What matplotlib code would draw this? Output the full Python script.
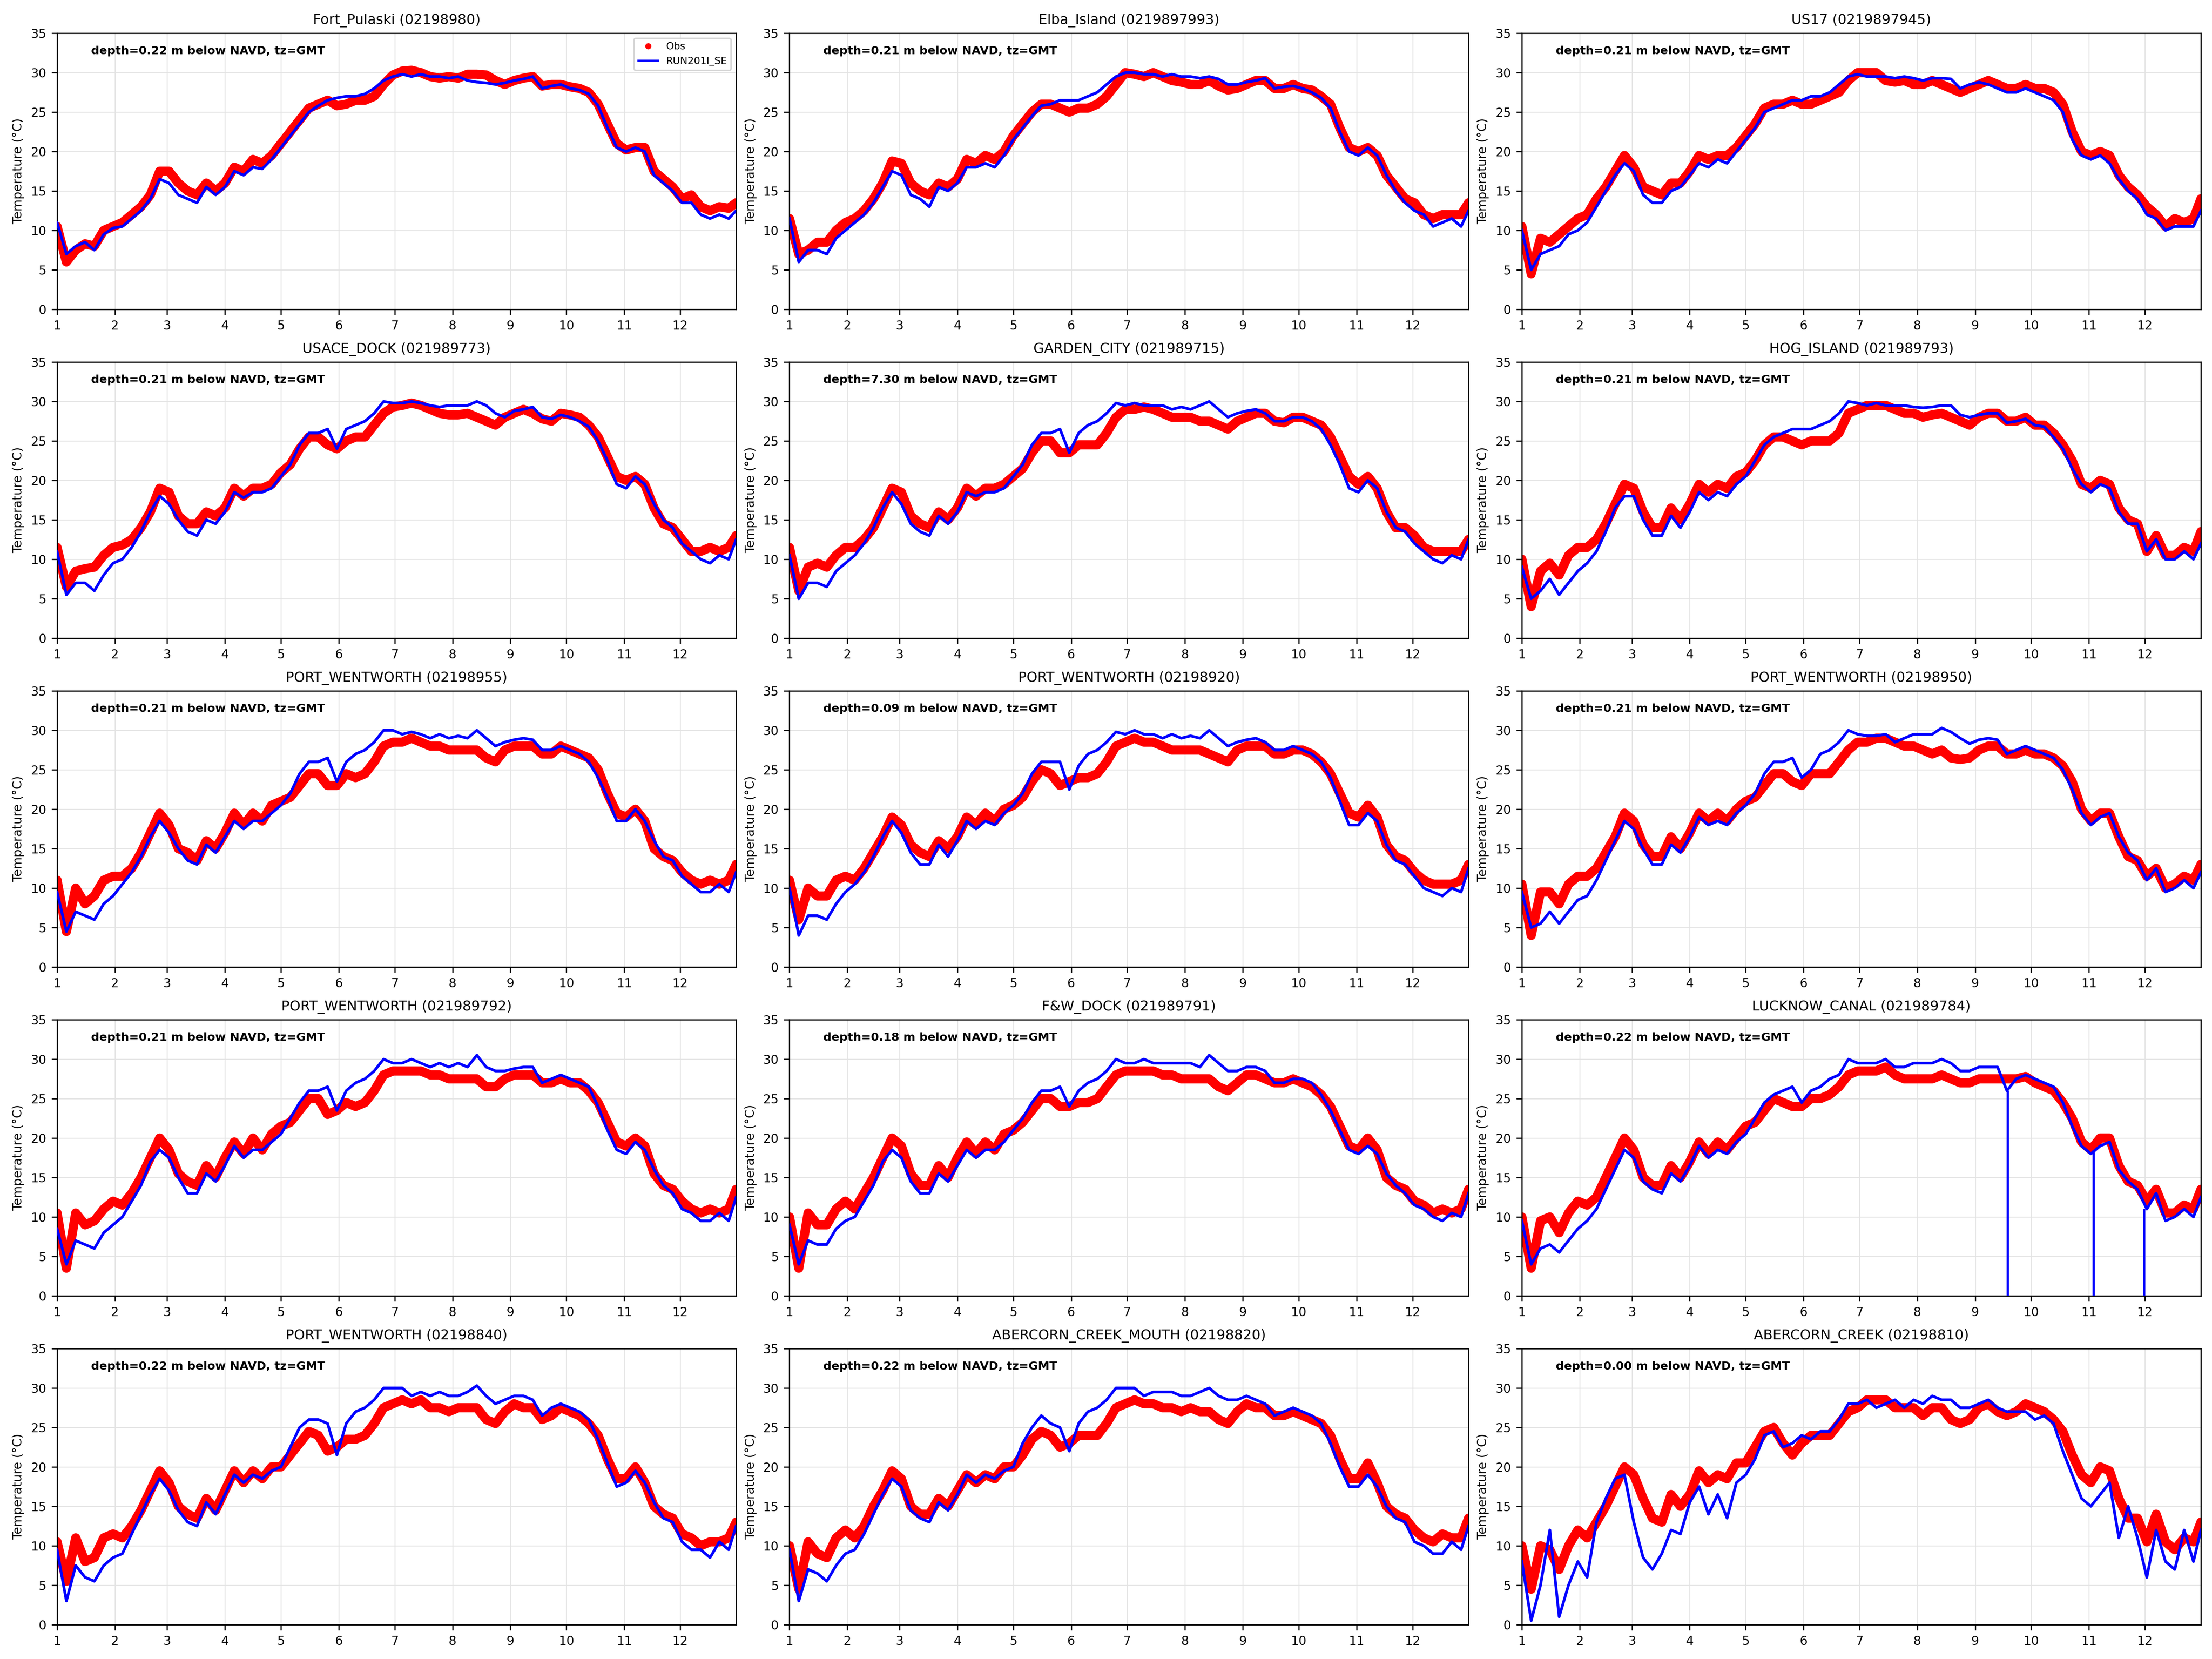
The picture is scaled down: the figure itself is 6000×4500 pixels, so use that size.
import matplotlib
matplotlib.use('Agg')
import matplotlib.pyplot as plt
from matplotlib.lines import Line2D

# time axis: day of year, sampled every 5 days
days = list(range(1, 362, 5)) + [365]
month_start = [1, 32, 60, 91, 121, 152, 182, 213, 244, 274, 305, 335]
month_labels = [str(m) for m in range(1, 13)]

fort_pulaski_obs = [10.5, 6.0, 7.5, 8.3, 8.0, 10.0, 10.5,
                    11.0, 12.0, 13.0, 14.5, 17.5,
                    17.5, 16.0, 15.0, 14.5, 16.0, 15.0,
                    16.0, 18.0, 17.5, 19.0, 18.5, 19.5,
                    21.0, 22.5, 24.0, 25.5, 26.0, 26.5, 25.8,
                    26.0, 26.5, 26.5, 27.0, 28.5, 29.7,
                    30.2, 30.3, 30.0, 29.5, 29.3, 29.5,
                    29.3, 29.8, 29.8, 29.7, 29.0, 28.5,
                    29.0, 29.3, 29.5, 28.3, 28.5, 28.5,
                    28.2, 28.0, 27.5, 26.0, 23.5, 21.0,
                    20.2, 20.5, 20.5, 17.5, 16.5, 15.5,
                    14.0, 14.5, 13.0, 12.5, 13.0, 12.8, 13.5]
fort_pulaski_mod = [11.0, 7.0, 8.0, 8.5, 7.5, 9.5, 10.3,
                    10.5, 11.5, 12.5, 14.0, 16.5,
                    16.0, 14.5, 14.0, 13.5, 15.5, 14.5,
                    15.5, 17.5, 17.0, 18.0, 17.8, 19.0,
                    20.5, 22.0, 23.5, 25.0, 25.8, 26.5, 26.8,
                    27.0, 27.0, 27.3, 28.0, 29.0, 29.5,
                    29.8, 29.5, 29.8, 29.5, 29.5, 29.3,
                    29.5, 29.0, 28.8, 28.7, 28.5, 28.7,
                    29.0, 29.2, 29.5, 28.0, 28.3, 28.5,
                    28.0, 27.8, 27.3, 25.8, 23.0, 20.5,
                    20.0, 20.5, 20.0, 17.0, 16.0, 15.0,
                    13.5, 13.5, 12.0, 11.5, 12.0, 11.5, 12.5]

elba_obs = [11.5, 7.0, 7.5, 8.5, 8.5, 10.0, 11.0,
            11.5, 12.5, 14.0, 16.0, 18.8,
            18.5, 16.0, 15.0, 14.5, 16.0, 15.5,
            16.5, 19.0, 18.5, 19.5, 19.0, 20.0,
            22.0, 23.5, 25.0, 26.0, 26.0, 25.5, 25.0,
            25.5, 25.5, 26.0, 27.0, 28.5, 30.0,
            29.8, 29.5, 30.0, 29.5, 29.0, 28.8,
            28.5, 28.5, 29.0, 28.3, 27.8, 28.0,
            28.5, 29.0, 29.0, 28.0, 28.0, 28.5,
            28.0, 27.8, 27.0, 26.0, 23.0, 20.5,
            20.0, 20.5, 19.5, 17.0, 15.5, 14.0,
            13.5, 12.0, 11.5, 12.0, 12.0, 12.0, 13.5]
elba_mod = [11.5, 6.0, 7.5, 7.5, 7.0, 9.0, 10.0,
            11.0, 12.0, 13.5, 15.5, 17.5,
            17.0, 14.5, 14.0, 13.0, 15.5, 15.0,
            16.0, 18.0, 18.0, 18.5, 18.0, 19.5,
            21.5, 23.0, 24.5, 25.8, 26.0, 26.5, 26.5,
            26.5, 27.0, 27.5, 28.5, 29.5, 30.0,
            30.0, 29.8, 29.8, 29.5, 29.8, 29.5,
            29.5, 29.3, 29.5, 29.2, 28.5, 28.5,
            28.8, 29.0, 29.3, 28.0, 28.2, 28.3,
            28.0, 27.5, 26.8, 25.5, 22.5, 20.0,
            19.5, 20.5, 19.5, 17.0, 15.0, 13.5,
            12.5, 12.0, 10.5, 11.0, 11.5, 10.5, 12.5]

us17_obs = [10.5, 4.5, 9.0, 8.5, 9.5, 10.5, 11.5,
            12.0, 14.0, 15.5, 17.5, 19.5,
            18.0, 15.5, 15.0, 14.5, 16.0, 16.0,
            17.5, 19.5, 19.0, 19.5, 19.5, 20.5,
            22.0, 23.5, 25.5, 26.0, 26.0, 26.5, 26.0,
            26.0, 26.5, 27.0, 27.5, 29.0, 30.0,
            30.0, 30.0, 29.0, 28.8, 29.0, 28.5,
            28.5, 29.0, 28.5, 28.0, 27.5, 28.0,
            28.5, 29.0, 28.5, 28.0, 28.0, 28.5,
            28.0, 28.0, 27.5, 26.0, 22.5, 20.0,
            19.5, 20.0, 19.5, 17.0, 15.5, 14.5,
            13.0, 12.0, 10.5, 11.5, 11.0, 11.5, 14.0]
us17_mod = [10.0, 5.0, 7.0, 7.5, 8.0, 9.5, 10.0,
            11.0, 13.0, 15.0, 17.0, 18.5,
            17.5, 14.5, 13.5, 13.5, 15.0, 15.5,
            17.0, 18.5, 18.0, 19.0, 18.5, 20.0,
            21.5, 23.0, 25.0, 25.5, 26.0, 26.5, 26.5,
            27.0, 27.0, 27.5, 28.5, 29.5, 29.8,
            29.5, 29.5, 29.5, 29.3, 29.5, 29.3,
            29.0, 29.3, 29.3, 29.2, 28.0, 28.5,
            28.8, 28.5, 28.0, 27.5, 27.5, 28.0,
            27.5, 27.0, 26.5, 25.0, 21.5, 19.5,
            19.0, 19.5, 18.5, 16.5, 15.0, 14.0,
            12.0, 11.5, 10.0, 10.5, 10.5, 10.5, 12.5]

usace_obs = [11.5, 6.5, 8.5, 8.8, 9.0, 10.5, 11.5,
             11.8, 12.5, 14.0, 16.0, 19.0,
             18.5, 15.5, 14.5, 14.5, 16.0, 15.5,
             16.5, 19.0, 18.0, 19.0, 19.0, 19.5,
             21.0, 22.0, 24.0, 25.5, 25.5, 24.5, 24.0,
             25.0, 25.5, 25.5, 27.0, 28.5, 29.3,
             29.5, 29.8, 29.5, 29.0, 28.5, 28.3,
             28.3, 28.5, 28.0, 27.5, 27.0, 28.0,
             28.5, 29.0, 28.5, 27.8, 27.5, 28.5,
             28.3, 28.0, 27.0, 25.5, 23.0, 20.5,
             20.0, 20.5, 19.5, 16.5, 14.5, 14.0,
             12.5, 11.0, 11.0, 11.5, 11.0, 11.5, 13.0]
usace_mod = [11.0, 5.5, 7.0, 7.0, 6.0, 8.0, 9.5,
             10.0, 11.5, 13.5, 16.0, 18.0,
             17.0, 15.0, 13.5, 13.0, 15.0, 14.5,
             16.0, 18.5, 17.8, 18.5, 18.5, 19.0,
             20.5, 22.0, 24.5, 26.0, 26.0, 26.5, 24.0,
             26.5, 27.0, 27.5, 28.5, 30.0, 29.8,
             29.8, 30.0, 29.8, 29.5, 29.3, 29.5,
             29.5, 29.5, 30.0, 29.5, 28.5, 28.0,
             28.8, 29.0, 29.3, 28.0, 27.8, 28.3,
             28.0, 27.5, 26.8, 25.0, 22.5, 19.5,
             19.0, 20.5, 19.5, 17.0, 15.0, 14.0,
             12.0, 11.0, 10.0, 9.5, 10.5, 10.0, 12.5]

garden_obs = [11.5, 6.0, 9.0, 9.5, 9.0, 10.5, 11.5,
              11.5, 12.5, 14.0, 16.5, 19.0,
              18.5, 15.5, 14.5, 14.0, 16.0, 15.0,
              16.5, 19.0, 18.0, 19.0, 19.0, 19.5,
              20.5, 21.5, 23.5, 25.0, 25.0, 23.5, 23.5,
              24.5, 24.5, 24.5, 26.0, 28.0, 29.0,
              29.0, 29.3, 29.0, 28.5, 28.0, 28.0,
              28.0, 27.5, 27.5, 27.0, 26.5, 27.5,
              28.0, 28.5, 28.5, 27.5, 27.3, 28.0,
              28.0, 27.5, 27.0, 25.5, 23.0, 20.5,
              19.5, 20.5, 19.0, 16.0, 14.0, 14.0,
              13.0, 11.5, 11.0, 11.0, 11.0, 11.0, 12.5]
garden_mod = [10.5, 5.0, 7.0, 7.0, 6.5, 8.5, 9.5,
              10.5, 12.0, 14.0, 16.5, 18.5,
              17.0, 14.5, 13.5, 13.0, 15.5, 14.5,
              16.0, 18.5, 18.0, 18.5, 18.5, 19.0,
              20.5, 22.0, 24.5, 26.0, 26.0, 26.5, 23.5,
              26.0, 27.0, 27.5, 28.5, 29.8, 29.5,
              29.8, 29.5, 29.5, 29.5, 29.0, 29.3,
              29.0, 29.5, 30.0, 29.0, 28.0, 28.5,
              28.8, 29.0, 28.5, 27.5, 27.5, 28.0,
              28.0, 27.5, 26.5, 24.5, 22.0, 19.0,
              18.5, 20.0, 19.0, 16.0, 14.0, 13.5,
              12.0, 11.0, 10.0, 9.5, 10.5, 10.0, 12.5]

hog_obs = [10.0, 4.0, 8.5, 9.5, 8.0, 10.5, 11.5,
           11.5, 12.5, 14.5, 17.0, 19.5,
           19.0, 16.0, 14.0, 14.0, 16.5, 15.0,
           17.0, 19.5, 18.5, 19.5, 19.0, 20.5,
           21.0, 22.5, 24.5, 25.5, 25.5, 25.0, 24.5,
           25.0, 25.0, 25.0, 26.0, 28.5, 29.0,
           29.5, 29.5, 29.5, 29.0, 28.5, 28.5,
           28.0, 28.3, 28.5, 28.0, 27.5, 27.0,
           28.0, 28.5, 28.5, 27.5, 27.5, 28.0,
           27.0, 27.0, 26.0, 24.5, 22.5, 19.5,
           19.0, 20.0, 19.5, 16.5, 15.0, 14.5,
           11.0, 13.0, 10.5, 10.5, 11.5, 11.0, 13.5]
hog_mod = [9.0, 5.0, 6.0, 7.5, 5.5, 7.0, 8.5,
           9.5, 11.0, 13.5, 16.5, 18.0,
           18.0, 15.0, 13.0, 13.0, 15.5, 14.0,
           16.0, 18.5, 17.5, 18.5, 18.0, 19.5,
           20.5, 22.5, 24.5, 25.5, 26.0, 26.5, 26.5,
           26.5, 27.0, 27.5, 28.5, 30.0, 29.8,
           29.5, 29.8, 29.5, 29.5, 29.5, 29.3,
           29.2, 29.3, 29.5, 29.5, 28.3, 28.0,
           28.3, 28.5, 28.5, 27.3, 27.5, 27.8,
           27.0, 26.8, 25.5, 24.0, 21.5, 19.5,
           18.5, 19.5, 19.0, 16.0, 14.5, 14.5,
           11.0, 12.5, 10.0, 10.0, 11.0, 10.0, 12.0]

pw955_obs = [11.0, 4.5, 10.0, 8.0, 9.0, 11.0, 11.5,
             11.5, 12.5, 14.5, 17.0, 19.5,
             18.0, 15.0, 14.5, 13.5, 16.0, 15.0,
             17.0, 19.5, 18.0, 19.5, 18.5, 20.5,
             21.0, 21.5, 23.0, 24.5, 24.5, 23.0, 23.0,
             24.5, 24.0, 24.5, 26.0, 28.0, 28.5,
             28.5, 29.0, 28.5, 28.0, 28.0, 27.5,
             27.5, 27.5, 27.5, 26.5, 26.0, 27.5,
             28.0, 28.0, 28.0, 27.0, 27.0, 28.0,
             27.5, 27.0, 26.5, 25.0, 22.0, 19.5,
             19.0, 20.0, 18.5, 15.0, 14.0, 13.5,
             12.0, 11.0, 10.5, 11.0, 10.5, 11.0, 13.0]
pw955_mod = [9.5, 4.5, 7.0, 6.5, 6.0, 8.0, 9.0,
             10.5, 12.0, 14.0, 16.5, 18.5,
             17.0, 15.0, 13.5, 13.0, 15.5, 14.5,
             16.5, 18.5, 17.5, 18.5, 18.5, 19.5,
             20.5, 22.0, 24.5, 26.0, 26.0, 26.5, 23.5,
             26.0, 27.0, 27.5, 28.5, 30.0, 30.0,
             29.5, 29.8, 29.5, 29.0, 29.5, 29.0,
             29.3, 29.0, 30.0, 29.0, 28.0, 28.5,
             28.8, 29.0, 28.8, 27.5, 27.5, 28.0,
             27.5, 27.0, 26.0, 24.0, 21.5, 18.5,
             18.5, 20.0, 18.5, 16.0, 14.0, 13.5,
             11.5, 10.5, 9.5, 9.5, 10.5, 9.5, 12.0]

pw920_obs = [11.0, 6.0, 10.0, 9.0, 9.0, 11.0, 11.5,
             11.0, 12.5, 14.5, 16.5, 19.0,
             18.0, 15.5, 14.5, 14.0, 16.0, 15.0,
             16.5, 19.0, 18.0, 19.5, 18.5, 20.0,
             20.5, 21.5, 23.5, 25.0, 24.5, 23.0, 23.5,
             24.0, 24.0, 24.5, 26.0, 28.0, 28.5,
             29.0, 28.5, 28.5, 28.0, 27.5, 27.5,
             27.5, 27.5, 27.0, 26.5, 26.0, 27.5,
             28.0, 28.0, 28.0, 27.0, 27.0, 27.5,
             27.5, 27.0, 26.0, 24.5, 22.0, 19.5,
             19.0, 20.5, 19.0, 15.5, 14.0, 13.5,
             12.0, 11.0, 10.5, 10.5, 10.5, 11.0, 13.0]
pw920_mod = [10.0, 4.0, 6.5, 6.5, 6.0, 8.0, 9.5,
             10.5, 12.0, 14.0, 16.5, 18.5,
             17.0, 14.5, 13.0, 13.0, 15.5, 14.0,
             16.0, 18.5, 17.5, 18.5, 18.0, 19.5,
             20.5, 22.0, 24.5, 26.0, 26.0, 26.0, 22.5,
             25.5, 27.0, 27.5, 28.5, 29.8, 29.5,
             30.0, 29.5, 29.5, 29.0, 29.5, 29.0,
             29.3, 29.0, 30.0, 29.0, 28.0, 28.5,
             28.8, 29.0, 28.5, 27.5, 27.5, 28.0,
             27.5, 27.0, 26.0, 24.0, 21.0, 18.0,
             18.0, 19.5, 18.5, 15.5, 13.5, 13.0,
             11.5, 10.0, 9.5, 9.0, 10.0, 9.5, 12.5]

pw950_obs = [10.5, 4.0, 9.5, 9.5, 8.0, 10.5, 11.5,
             11.5, 12.5, 14.5, 16.5, 19.5,
             18.5, 15.5, 14.0, 14.0, 16.5, 15.0,
             17.0, 19.5, 18.5, 19.5, 18.5, 20.0,
             21.0, 21.5, 23.0, 24.5, 24.5, 23.5, 23.0,
             24.5, 24.5, 24.5, 26.0, 27.5, 28.5,
             28.5, 29.0, 29.0, 28.5, 28.0, 28.0,
             27.5, 27.0, 27.5, 26.5, 26.3, 26.5,
             27.5, 28.0, 28.0, 27.0, 27.0, 27.5,
             27.0, 27.0, 26.5, 25.5, 23.5, 20.0,
             18.5, 19.5, 19.5, 16.5, 14.0, 13.5,
             11.5, 12.5, 10.0, 10.5, 11.5, 11.0, 13.0]
pw950_mod = [9.5, 5.0, 5.5, 7.0, 5.5, 7.0, 8.5,
             9.0, 11.0, 13.5, 16.0, 18.5,
             17.5, 15.0, 13.0, 13.0, 15.5, 14.5,
             16.5, 19.0, 18.0, 18.5, 18.0, 19.5,
             20.5, 22.0, 24.5, 26.0, 26.0, 26.5, 24.0,
             25.0, 27.0, 27.5, 28.5, 30.0, 29.5,
             29.3, 29.3, 29.5, 28.5, 29.0, 29.5,
             29.5, 29.5, 30.3, 29.8, 29.0, 28.3,
             28.8, 29.0, 28.8, 27.0, 27.5, 28.0,
             27.5, 27.0, 26.5, 25.0, 22.5, 19.5,
             18.0, 19.0, 19.5, 16.5, 14.5, 13.5,
             11.0, 12.5, 9.5, 10.0, 11.0, 10.0, 12.0]

pw792_obs = [10.5, 3.5, 10.5, 9.0, 9.5, 11.0, 12.0,
             11.5, 13.0, 15.0, 17.5, 20.0,
             18.5, 15.5, 14.5, 14.0, 16.5, 15.0,
             17.5, 19.5, 18.0, 20.0, 18.5, 20.5,
             21.5, 22.0, 23.5, 25.0, 25.0, 23.0, 23.5,
             24.5, 24.0, 24.5, 26.0, 28.0, 28.5,
             28.5, 28.5, 28.5, 28.0, 28.0, 27.5,
             27.5, 27.5, 27.5, 26.5, 26.5, 27.5,
             28.0, 28.0, 28.0, 27.0, 27.0, 27.5,
             27.0, 27.0, 26.0, 24.5, 22.0, 19.5,
             19.0, 20.0, 19.0, 15.5, 14.0, 13.5,
             12.0, 11.0, 10.5, 11.0, 10.5, 11.0, 13.5]
pw792_mod = [8.5, 4.0, 7.0, 6.5, 6.0, 8.0, 9.0,
             10.0, 12.0, 14.0, 17.0, 18.5,
             17.5, 15.0, 13.0, 13.0, 15.5, 14.5,
             16.5, 19.0, 17.5, 18.5, 18.5, 19.5,
             20.5, 22.5, 24.5, 26.0, 26.0, 26.5, 23.5,
             26.0, 27.0, 27.5, 28.5, 30.0, 29.5,
             29.5, 30.0, 29.5, 29.0, 29.5, 29.0,
             29.5, 29.0, 30.5, 29.0, 28.5, 28.5,
             28.8, 29.0, 29.0, 27.0, 27.5, 28.0,
             27.5, 27.0, 26.5, 24.0, 21.0, 18.5,
             18.0, 19.5, 18.5, 16.0, 14.0, 13.0,
             11.0, 10.5, 9.5, 9.5, 10.5, 9.5, 12.5]

fw_dock_obs = [10.0, 3.5, 10.5, 9.0, 9.0, 11.0, 12.0,
               11.0, 13.0, 15.0, 17.5, 20.0,
               19.0, 15.5, 14.0, 14.0, 16.5, 15.0,
               17.5, 19.5, 18.0, 19.5, 18.5, 20.5,
               21.0, 22.0, 23.5, 25.0, 25.0, 24.0, 24.0,
               24.5, 24.5, 25.0, 26.5, 28.0, 28.5,
               28.5, 28.5, 28.5, 28.0, 28.0, 27.5,
               27.5, 27.5, 27.5, 26.5, 26.0, 27.0,
               28.0, 28.0, 27.5, 27.0, 27.0, 27.5,
               27.0, 26.5, 25.5, 24.0, 21.5, 19.0,
               18.5, 20.0, 18.5, 15.0, 14.0, 13.5,
               12.0, 11.5, 10.5, 11.0, 10.5, 11.0, 13.5]
fw_dock_mod = [9.0, 4.0, 7.0, 6.5, 6.5, 8.5, 9.5,
               10.0, 12.0, 14.0, 17.0, 18.5,
               17.5, 14.5, 13.0, 13.0, 15.5, 14.5,
               16.5, 18.5, 17.5, 18.5, 18.5, 19.5,
               21.0, 22.5, 24.5, 26.0, 26.0, 26.5, 24.0,
               26.0, 27.0, 27.5, 28.5, 30.0, 29.5,
               29.5, 30.0, 29.5, 29.5, 29.5, 29.5,
               29.5, 29.0, 30.5, 29.5, 28.5, 28.5,
               29.0, 29.0, 28.5, 27.0, 27.0, 27.5,
               27.5, 27.0, 25.5, 23.5, 21.0, 18.5,
               18.0, 19.0, 18.0, 15.5, 14.0, 13.0,
               11.5, 11.0, 10.0, 9.5, 10.5, 10.0, 13.0]

lucknow_obs = [10.0, 3.5, 9.5, 10.0, 8.0, 10.5, 12.0,
               11.5, 12.5, 15.0, 17.5, 20.0,
               18.5, 15.0, 14.0, 14.0, 16.5, 15.0,
               17.0, 19.5, 18.0, 19.5, 18.5, 20.0,
               21.5, 22.0, 23.5, 25.0, 24.5, 24.0, 24.0,
               25.0, 25.0, 25.5, 26.5, 28.0, 28.5,
               28.5, 28.5, 29.0, 28.0, 27.5, 27.5,
               27.5, 27.5, 28.0, 27.5, 27.0, 27.0,
               27.5, 27.5, 27.5, 27.5, 27.5, 27.8,
               27.0, 26.5, 26.0, 24.5, 22.5, 19.5,
               18.5, 20.0, 20.0, 16.5, 14.5, 14.0,
               12.0, 13.5, 10.5, 10.5, 11.5, 11.0, 13.5]
lucknow_mod = [9.5, 4.0, 6.0, 6.5, 5.5, 7.0, 8.5,
               9.5, 11.0, 13.5, 16.0, 18.5,
               17.5, 14.5, 13.5, 13.0, 15.5, 14.5,
               16.5, 19.0, 17.5, 18.5, 18.0, 19.5,
               20.5, 22.5, 24.5, 25.5, 26.0, 26.5, 24.5,
               26.0, 26.5, 27.5, 28.0, 30.0, 29.5,
               29.5, 29.5, 30.0, 29.0, 29.0, 29.5,
               29.5, 29.5, 30.0, 29.5, 28.5, 28.5,
               29.0, 29.0, 29.0, 26.0, 27.5, 28.0,
               27.5, 27.0, 26.5, 24.5, 21.5, 19.0,
               18.0, 19.0, 19.5, 16.0, 14.5, 13.5,
               11.0, 13.0, 9.5, 10.0, 11.0, 10.0, 12.5]
# short model drop-outs to zero
lucknow_gap_days = [261.5, 307.5, 334.5]
lucknow_gap_top = [26.0, 18.5, 11.0]

pw840_obs = [10.5, 5.5, 11.0, 8.0, 8.5, 11.0, 11.5,
             11.0, 12.5, 14.5, 17.0, 19.5,
             18.0, 15.0, 14.0, 13.5, 16.0, 14.5,
             17.0, 19.5, 18.0, 19.5, 18.5, 20.0,
             20.0, 21.5, 23.0, 24.5, 24.0, 22.0, 22.5,
             23.5, 23.5, 24.0, 25.5, 27.5, 28.0,
             28.5, 28.0, 28.5, 27.5, 27.5, 27.0,
             27.5, 27.5, 27.5, 26.0, 25.5, 27.0,
             28.0, 27.5, 27.5, 26.0, 26.5, 27.5,
             27.0, 26.5, 25.5, 24.0, 21.0, 18.5,
             18.5, 20.0, 18.0, 15.0, 14.0, 13.5,
             11.5, 11.0, 10.0, 10.5, 10.5, 11.0, 13.0]
pw840_mod = [9.5, 3.0, 7.5, 6.0, 5.5, 7.5, 8.5,
             9.0, 11.5, 14.0, 16.5, 18.5,
             17.0, 14.5, 13.0, 12.5, 15.5, 14.0,
             16.5, 19.0, 18.0, 19.0, 18.5, 19.5,
             20.0, 22.5, 25.0, 26.0, 26.0, 25.5, 21.5,
             25.5, 27.0, 27.5, 28.5, 30.0, 30.0,
             30.0, 29.0, 29.5, 29.0, 29.5, 29.0,
             29.0, 29.5, 30.3, 29.0, 28.0, 28.5,
             29.0, 29.0, 28.5, 26.5, 27.5, 28.0,
             27.5, 27.0, 26.0, 23.5, 20.5, 17.5,
             18.0, 19.5, 18.0, 15.5, 13.5, 13.0,
             10.5, 9.5, 9.5, 8.5, 10.5, 9.5, 12.5]

abercorn_mouth_obs = [10.0, 4.5, 10.5, 9.0, 8.5, 11.0, 12.0,
                      11.0, 12.5, 15.0, 17.0, 19.5,
                      18.5, 15.0, 14.0, 14.0, 16.0, 15.0,
                      17.0, 19.0, 18.0, 19.0, 18.5, 20.0,
                      20.0, 21.5, 23.5, 24.5, 24.0, 22.5, 23.0,
                      24.0, 24.0, 24.0, 25.5, 27.5, 28.0,
                      28.5, 28.0, 28.0, 27.5, 27.5, 27.0,
                      27.5, 27.0, 27.0, 26.0, 25.5, 27.0,
                      28.0, 27.5, 27.5, 26.5, 26.5, 27.0,
                      26.5, 26.0, 25.5, 24.0, 21.0, 18.5,
                      18.5, 20.5, 18.0, 15.0, 14.0, 13.5,
                      12.0, 11.0, 10.5, 11.5, 11.0, 11.0, 13.5]
abercorn_mouth_mod = [9.5, 3.0, 7.0, 6.5, 5.5, 7.5, 9.0,
                      9.5, 11.5, 14.0, 16.5, 18.5,
                      17.5, 14.5, 13.5, 13.0, 15.5, 14.5,
                      16.5, 19.0, 18.0, 19.0, 18.5, 19.5,
                      20.0, 23.0, 25.0, 26.5, 25.5, 25.0, 22.0,
                      25.5, 27.0, 27.5, 28.5, 30.0, 30.0,
                      30.0, 29.0, 29.5, 29.5, 29.5, 29.0,
                      29.0, 29.5, 30.0, 29.0, 28.5, 28.5,
                      29.0, 28.5, 28.0, 26.5, 27.0, 27.5,
                      27.0, 26.5, 25.5, 23.0, 20.0, 17.5,
                      17.5, 19.0, 17.5, 15.0, 13.5, 13.0,
                      10.5, 10.0, 9.0, 9.0, 10.5, 9.5, 12.5]

abercorn_obs = [10.0, 4.5, 10.0, 9.5, 7.0, 10.0, 12.0,
                11.0, 13.0, 15.0, 17.5, 20.0,
                19.0, 16.0, 13.5, 13.0, 16.5, 15.0,
                16.5, 19.5, 18.0, 19.0, 18.5, 20.5,
                20.5, 22.5, 24.5, 25.0, 23.0, 21.5, 23.0,
                24.0, 24.0, 24.0, 25.5, 27.0, 27.5,
                28.5, 28.5, 28.5, 27.5, 27.5, 27.5,
                26.5, 27.5, 27.5, 26.0, 25.5, 26.0,
                27.5, 28.0, 27.0, 26.5, 27.0, 28.0,
                27.5, 27.0, 26.0, 24.5, 21.5, 19.0,
                18.0, 20.0, 19.5, 16.0, 13.5, 13.5,
                10.5, 14.0, 10.5, 9.5, 11.0, 10.5, 13.0]
abercorn_mod = [8.0, 0.5, 5.0, 12.0, 1.0, 5.0, 8.0,
                6.0, 13.0, 16.0, 18.5, 19.0,
                13.0, 8.5, 7.0, 9.0, 12.0, 11.5,
                15.5, 17.5, 14.0, 16.5, 13.5, 18.0,
                19.0, 21.0, 24.0, 24.5, 22.5, 23.0, 24.0,
                23.5, 24.5, 24.5, 26.0, 28.0, 28.0,
                28.5, 27.5, 28.0, 28.5, 27.5, 28.5,
                28.0, 29.0, 28.5, 28.5, 27.5, 27.5,
                28.0, 28.5, 27.5, 27.0, 27.0, 27.0,
                26.0, 26.5, 25.5, 22.0, 19.0, 16.0,
                15.0, 16.5, 18.0, 11.0, 15.0, 11.0,
                6.0, 12.0, 8.0, 7.0, 12.0, 8.0, 12.0]

stations = [
    ('Fort_Pulaski (02198980)', '0.22', fort_pulaski_obs, fort_pulaski_mod),
    ('Elba_Island (0219897993)', '0.21', elba_obs, elba_mod),
    ('US17 (0219897945)', '0.21', us17_obs, us17_mod),
    ('USACE_DOCK (021989773)', '0.21', usace_obs, usace_mod),
    ('GARDEN_CITY (021989715)', '7.30', garden_obs, garden_mod),
    ('HOG_ISLAND (021989793)', '0.21', hog_obs, hog_mod),
    ('PORT_WENTWORTH (02198955)', '0.21', pw955_obs, pw955_mod),
    ('PORT_WENTWORTH (02198920)', '0.09', pw920_obs, pw920_mod),
    ('PORT_WENTWORTH (02198950)', '0.21', pw950_obs, pw950_mod),
    ('PORT_WENTWORTH (021989792)', '0.21', pw792_obs, pw792_mod),
    ('F&W_DOCK (021989791)', '0.18', fw_dock_obs, fw_dock_mod),
    ('LUCKNOW_CANAL (021989784)', '0.22', lucknow_obs, lucknow_mod),
    ('PORT_WENTWORTH (02198840)', '0.22', pw840_obs, pw840_mod),
    ('ABERCORN_CREEK_MOUTH (02198820)', '0.22', abercorn_mouth_obs, abercorn_mouth_mod),
    ('ABERCORN_CREEK (02198810)', '0.00', abercorn_obs, abercorn_mod),
]

fig, axes = plt.subplots(5, 3, figsize=(20, 15))
fig.subplots_adjust(left=0.0258, right=0.995, top=0.980, bottom=0.0207,
                    wspace=0.0785, hspace=0.191)

for i, (ax, (name, depth, obs, mod)) in enumerate(zip(axes.flat, stations)):
    ax.plot(days, obs, color='red', lw=6, solid_joinstyle='round',
            solid_capstyle='round', zorder=2)
    ax.plot(days, mod, color='blue', lw=1.8, zorder=3)
    if name.startswith('LUCKNOW'):
        ax.vlines(lucknow_gap_days, 0, lucknow_gap_top, color='blue', lw=1.5, zorder=3)

    ax.set_xlim(1, 365)
    ax.set_ylim(0, 35)
    ax.set_xticks(month_start)
    ax.set_xticklabels(month_labels)
    ax.set_yticks(range(0, 36, 5))
    ax.tick_params(labelsize=8)
    ax.grid(True, color='#e3e3e3', lw=0.6)
    ax.set_axisbelow(True)
    ax.set_title(name, fontsize=9)
    ax.set_ylabel('Temperature (°C)', fontsize=8)
    ax.text(0.05, 0.935, f'depth={depth} m below NAVD, tz=GMT',
            transform=ax.transAxes, fontsize=7.5, fontweight='bold', va='center')

    if i == 0:
        handles = [Line2D([], [], color='red', marker='o', ls='', ms=3),
                   Line2D([], [], color='blue', lw=1.3)]
        ax.legend(handles, ['Obs', 'RUN201l_SE'], loc='upper right', fontsize=6.5)

fig.savefig('out.png', dpi=300)
